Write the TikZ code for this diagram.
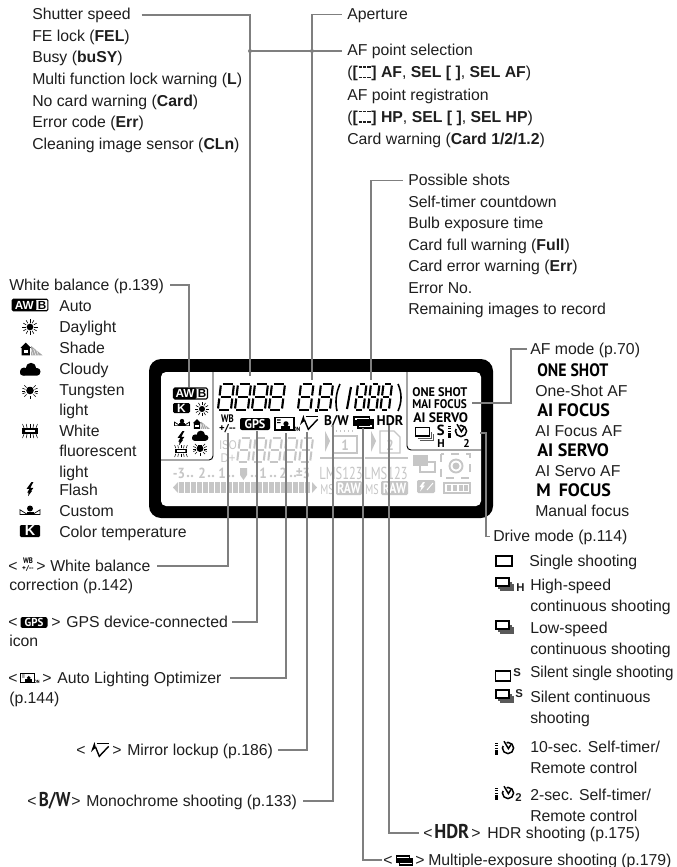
\documentclass[tikz,border=0pt]{standalone}
\usepackage{fontspec}
\setmainfont{Liberation Sans}
\newfontfamily\cond{PT Sans}
\definecolor{ink}{HTML}{1E1E1E}
\definecolor{lead}{HTML}{7F7F7F}
\definecolor{lcdgray}{HTML}{C6C6C6}
\newcommand\dashbrk{\textbf{[}\kern.6pt\rlap{\rule{2.4pt}{.9pt}\kern.9pt\rule{2.4pt}{.9pt}\kern.9pt\rule{2.4pt}{.9pt}}\raisebox{7.8pt}{\rule{2.4pt}{.9pt}\kern.9pt\rule{2.4pt}{.9pt}\kern.9pt\rule{2.4pt}{.9pt}}\kern.6pt\textbf{]}}
\newcommand\cnd[2][.8]{\scalebox{#1}[1]{\cond\bfseries #2}}
\newcommand\segd[6]{% x y w h color lw
 \begin{scope}[shift={(#1,#2)},xslant=.12,line width=#6pt,draw=#5]
  \draw (1.5,0)--(#3-1.5,0) (1.5,#4/2)--(#3-1.5,#4/2) (1.5,#4)--(#3-1.5,#4);
  \draw (0,1.5)--(0,#4/2-1.5) (0,#4/2+1.5)--(0,#4-1.5) (#3,1.5)--(#3,#4/2-1.5) (#3,#4/2+1.5)--(#3,#4-1.5);
 \end{scope}}
\tikzset{
 x=.75pt,y=-.75pt,
 lbl/.style={anchor=base west,inner sep=0pt,text=ink,font=\fontsize{11.85pt}{13pt}\selectfont,text height=9pt,text depth=1.5pt},
 glyph/.style={anchor=base,inner sep=0pt,text=ink,font=\fontsize{11.85pt}{13pt}\selectfont},
 afword/.style={anchor=base west,inner sep=0pt,text=black,font=\fontsize{13.5pt}{15pt}\selectfont},
 lcdword/.style={anchor=base west,inner sep=0pt,text=black,font=\fontsize{9.4pt}{11pt}\selectfont},
 graytext/.style={anchor=base,inner sep=0pt,text=lcdgray,font=\fontsize{11pt}{13pt}\selectfont},
 leader/.style={draw=lead,line width=1.05pt},
 leadend/.style={fill=lead,draw=none},
 pics/awbicon/.style={code={
  \draw[black,line width=.8pt,rounded corners=1pt] (-17,-5.5) rectangle (17,5.5);
  \fill[black,rounded corners=1pt] (-17,-5.5) rectangle (6,5.5);
  \node[inner sep=0pt,text=white,font=\bfseries\fontsize{8.8pt}{9pt}\selectfont] (-aw) at (-5.5,0) {AW};
  \node[inner sep=0pt,text=black,font=\bfseries\fontsize{8.8pt}{9pt}\selectfont] (-b) at (11.5,0) {B};}},
 pics/kicon/.style={code={
  \fill[black,rounded corners=1pt] (-8.5,-5) rectangle (8.5,5);
  \node[inner sep=0pt,text=white,font=\bfseries\fontsize{9pt}{9pt}\selectfont] (-k) at (0,0) {K};}},
 pics/sunicon/.style={code={
  \fill[black] (0,0) circle (3.2);
  \foreach \a in {0,30,...,330}{\draw[black,line width=.45pt] (\a:4.2)--(\a:7.4);}}},
 pics/shadeicon/.style={code={
  \fill[black] (-10,-1)--(-5,-6)--(0,-1)--(-1,-1)--(-1,6)--(-9,6)--(-9,-1)--cycle;
  \fill[white] (-7,1) rectangle (-3,4);
  \fill[gray!70] (0,-3)--(11,6)--(0,6)--cycle;
  \foreach \k in {2,4.5,7}{\draw[white,line width=.3pt] (\k,6)--(\k-2,0);}}},
 pics/cloudicon/.style={code={
  \fill[black,rounded corners=2pt] (-10,0) rectangle (10,6);
  \fill[black] (-6,2) circle (4) (1,-1.5) circle (5.2) (7,2) circle (3.5);}},
 pics/tungicon/.style={code={
  \fill[black] (0,-.5) circle (3.8);
  \fill[black] (-2.2,-4) rectangle (2.2,0);
  \foreach \a in {-45,-20,0,20,45,135,160,180,200,225,90}{\draw[black,line width=.45pt] (\a:4.8)--(\a:8);}}},
 pics/fluoricon/.style={code={
  \draw[black,line width=.8pt] (-7,-2) rectangle (7,2);
  \fill[black] (-7,-2) rectangle (-5,2) (5,-2) rectangle (7,2);
  \foreach \k in {-6,-3,0,3,6}{\draw[black,line width=.4pt] (\k,-3.2)--(\k*1.25,-7) (\k,3.2)--(\k*1.25,7);}}},
 pics/flashicon/.style={code={
  \fill[black] (1.5,-7)--(-3.4,-.2)--(-.6,-.2)--(-2.7,3.5)--(-1.6,3.5)--(-1.8,7)--(2,2)--(1.2,2)--(3.4,-1.2)--(.4,-1.2)--(3.4,-7)--cycle;}},
 pics/customicon/.style={code={
  \draw[black,line width=.55pt] (-10,-1.2)--(-2.5,3.5)--(-10,3.5)--cycle (10,-1.2)--(2.5,3.5)--(10,3.5)--cycle;
  \fill[black] (0,-2.5) circle (3);
  \fill[black] (-3.5,3.7) rectangle (3.5,.6);}},
 pics/wbicon/.style={code={
  \node[inner sep=0pt,text=black] (-w) at (0,-5) {\fontsize{8.2pt}{9pt}\selectfont\cnd[.8]{WB}};
  \node[inner sep=0pt,text=black] (-p) at (0,5) {\fontsize{7.6pt}{8pt}\selectfont\cnd[1.05]{+/--}};}},
 pics/gpsicon/.style={code={
  \fill[black,rounded corners=1.5pt] (-15,-6) rectangle (15,6);
  \node[inner sep=0pt,text=white] (-g) at (0,0) {\fontsize{9.6pt}{10pt}\selectfont\cnd[.95]{GPS}};}},
 pics/aloicon/.style={code={
  \draw[black,line width=.8pt] (-10,-6.5) rectangle (9,6);
  \fill[black] (-4,1.6) rectangle (5,5.5);
  \fill[black] (1,-.2) circle (2.6);
  \fill[black] (-8,-4.6) rectangle (-4.5,-3.4) (-8,-2) rectangle (-4.5,-.8);
  \fill[white] (9.5,3) rectangle (14,8);
  \node[inner sep=0pt,text=black] (-o) at (11.7,5.6) {\fontsize{4.6pt}{5pt}\selectfont\cnd[.9]{ON}};}},
 pics/mirroricon/.style={code={
  \draw[black,line width=1.1pt] (-3.3,-6.3)--(9.3,-6.3);
  \draw[black,line width=1.05pt] (-4.5,-3)--(-.7,6.3)--(8.7,-3.7);
  \fill[black] (-9,2)--(-5.5,-8)--(-4,-2)--(-6,-1)--cycle;}},
 pics/multiicon/.style={code={
  \fill[black] (-10,-6) rectangle (7,3.5);
  \fill[white] (-8.5,-4) rectangle (5.5,-2.4);
  \draw[black,line width=1pt] (-5,-2) rectangle (10,6);
  \fill[black] (-5,-2) rectangle (10,3);}},
 pics/stackone/.style={code={\draw[black,line width=1.3pt] (-8,-5) rectangle (8,5);}},
 pics/stackmany/.style={code={
  \draw[black,line width=1.05pt] (-7,-6) rectangle (6,2);
  \draw[black!65,line width=.85pt] (-5,4)--(8,4)--(8,-2);
  \draw[black!65,line width=.85pt] (-3,6)--(10,6)--(10,0);}},
 pics/timericon/.style={code={
  \foreach \k in {-5.5,-3,-.5}{\fill[black] (-10,\k) rectangle (-7,\k+1.4);}
  \fill[black] (-10,2) rectangle (-7,6.5);
  \draw[black,line width=1.1pt] (3,0) circle (5.6);
  \fill[white] (3,0)--(-3.5,-3)--(-3.5,-7)--(1,-7)--cycle;
  \draw[black,line width=1.1pt] (-1,-6.8)--(3.4,.6)--(6,-3.5);}},
}
\begin{document}
\begin{tikzpicture}
\useasboundingbox (0,0) rectangle (677,867);
% ---- LCD frame
\fill[black,rounded corners=12*.75pt] (149,359) rectangle (493,518);
\fill[white,rounded corners=5*.75pt] (161,372) rectangle (481,506);
\draw[black,line width=.7pt,rounded corners=3pt] (213,372)--(213,460)--(161,460);
\draw[black,line width=.7pt,rounded corners=3pt] (407,372)--(407,450)--(481,450);
% ---- LCD gray part
\foreach \x in {240,255.5,271,286.5,302}{\segd{\x}{438}{11}{24}{lcdgray}{1.5}}
\node[graytext] (isolbl) at (228,449) {\fontsize{9.5pt}{10pt}\selectfont\scalebox{.8}[1]{ISO}};
\node[graytext] (dplus) at (228,462) {\fontsize{9.5pt}{10pt}\selectfont\scalebox{.9}[1]{D+}};
\foreach \x/\t/\i in {179/{-3}/a,202/2/b,222/1/c,263/1/d,283/2/e,303/{±3}/f}{\node[graytext] (sc\i) at (\x,478) {\cnd[.9]{\t}};}
\foreach \x in {188,192,209,213,229,233,252,256,271,275,291,295}{\fill[lcdgray] (\x,476) circle (1.3);}
\fill[lcdgray] (240,468) rectangle (247,475) (240,475)--(247,475)--(243.5,480)--cycle;
\fill[lcdgray] (173,487.5)--(178,482)--(178,493)--cycle (312,482)--(317,487.5)--(312,493)--cycle;
\foreach \x in {179,185,...,305}{\fill[lcdgray] (\x,482) rectangle (\x+5,493);}
% media boxes
\fill[lcdgray] (325,431)--(330,441)--(325,452)--cycle (371,431)--(376,441)--(371,452)--cycle;
\draw[lcdgray,line width=1pt] (333,436) rectangle (357,453);
\draw[lcdgray,line width=1pt,dotted] (336,431)--(356,431);
\draw[lcdgray,line width=1pt] (380,431)--(394,431)--(400,437)--(400,453)--(380,453)--cycle;
\node[graytext] (c1) at (345,450) {\cnd[.9]{1}};
\node[graytext] (c2) at (390,450) {\cnd[.9]{2}};
\draw[lcdgray,line width=.8pt] (320,458)--(362,458) (365,458)--(408,458);
\node[graytext] (lms1) at (341,479.5) {\fontsize{13pt}{14pt}\selectfont\scalebox{.72}[1]{\cond LMS123}};
\node[graytext] (lms2) at (386,479.5) {\fontsize{13pt}{14pt}\selectfont\scalebox{.72}[1]{\cond LMS123}};
\node[graytext] (ms1) at (327,494) {\fontsize{10.5pt}{12pt}\selectfont\scalebox{.72}[1]{\cond MS}};
\node[graytext] (ms2) at (372,494) {\fontsize{10.5pt}{12pt}\selectfont\scalebox{.72}[1]{\cond MS}};
\fill[lcdgray,rounded corners=1pt] (336,481) rectangle (362,495) (381,481) rectangle (408,495);
\node[graytext,text=white] (raw1) at (349,493.5) {\fontsize{11pt}{12pt}\selectfont\cnd[.8]{RAW}};
\node[graytext,text=white] (raw2) at (394.5,493.5) {\fontsize{11pt}{12pt}\selectfont\cnd[.8]{RAW}};
% right gray icons
\fill[lcdgray] (413,455) rectangle (428,466);
\draw[lcdgray,line width=1.2pt] (420,462) rectangle (435,472);
\draw[lcdgray,line width=1pt,dash pattern=on 6pt off 5pt] (441,454) rectangle (470,478);
\draw[lcdgray,line width=1.4pt] (456,466) circle (6.5);
\fill[lcdgray] (456,466) circle (3.5);
\fill[lcdgray,rounded corners=1pt] (417,480) rectangle (435,493);
\fill[white] (423,482)--(419.5,487)--(421.5,487)--(420,491.5)--(425,485.5)--(423,485.5)--(425,482)--cycle;
\draw[white,line width=.7pt] (427,490)--(433,483);
\draw[lcdgray,line width=1pt] (444,483) rectangle (470,493);
\foreach \x in {447,453,459,464}{\fill[lcdgray] (\x,485) rectangle (\x+4,491);}
% ---- LCD black digits
\foreach \x in {221,238,255,272}{\segd{\x}{384}{13}{26}{black}{1.6}}
\segd{301}{384}{12.5}{26}{black}{1.6}
\segd{321}{384}{12}{26}{black}{1.6}
\fill[black] (314.5,408.5) rectangle (317.5,411.5);
\draw[black,line width=1.2pt] (340,384) .. controls (336,393) and (335,402) .. (337,411);
\draw[black,line width=1.2pt] (398,384) .. controls (402,393) and (402,402) .. (398,411);
\draw[black,line width=1.6pt] (351,387)--(347,409);
\foreach \x in {358,371,383.5}{\segd{\x}{384}{8.5}{26}{black}{1.6}}
% ---- LCD black icons
\pic[scale=1] (lcdawb) at (190.5,393.5) {awbicon};
\pic[scale=1,transform shape] (lcdk) at (181.5,408) {kicon};
\pic[scale=.95] (lcdsun) at (202,409) {sunicon};
\pic[scale=.75] (lcdcust) at (182,423) {customicon};
\pic[scale=.8] (lcdshade) at (201,424) {shadeicon};
\pic[scale=1] (lcdflash) at (181,438) {flashicon};
\pic[scale=.8] (lcdcloud) at (200,436) {cloudicon};
\pic[scale=.85] (lcdfluor) at (181,451) {fluoricon};
\pic[scale=.9] (lcdtung) at (200,449) {tungicon};
\pic (lcdwb) at (227.5,424) {wbicon};
\pic (lcdgps) at (255,424) {gpsicon};
\pic (lcdalo) at (285,424) {aloicon};
\pic (lcdmirror) at (309,423) {mirroricon};
\node[lcdword,anchor=base] (lcdbw) at (336.5,425.5) {\fontsize{10.5pt}{11pt}\selectfont\cnd[.95]{B/W}};
\pic (lcdmulti) at (363,422) {multiicon};
\node[lcdword,anchor=base] (lcdhdr) at (390,425.5) {\fontsize{10.5pt}{11pt}\selectfont\cnd[1]{HDR}};
\node[lcdword] (lcdone) at (412,396) {\cnd[.98]{ONE SHOT}};
\node[lcdword] (lcdmai) at (412,408) {\cnd[.9]{MAI FOCUS}};
\node[lcdword] (lcdservo) at (413,422) {\fontsize{10.3pt}{11pt}\selectfont\cnd[1]{AI SERVO}};
\pic[scale=1.05] (lcddrive) at (423,434) {stackmany};
\node[lcdword] (lcds) at (436.5,435.5) {\fontsize{11pt}{11pt}\selectfont\cond\bfseries S};
\node[lcdword] (lcdh) at (437,447.5) {\fontsize{8.5pt}{9pt}\selectfont\cond\bfseries H};
\pic (lcdtimer) at (458,431) {timericon};
\node[lcdword] (lcd2) at (463,447.5) {\fontsize{8.5pt}{9pt}\selectfont\cond\bfseries 2};
% ---- top labels
\node[lbl] (shutter) at (32,20) {Shutter speed};
\node[lbl] at (32,41.5) (fel) {FE lock (\textbf{FEL})};
\node[lbl] at (32,63) (busy) {Busy (\textbf{buSY})};
\node[lbl] at (32,84.5) (mflock) {Multi function lock warning (\textbf{L})};
\node[lbl] at (32,106) (nocard) {No card warning (\textbf{Card})};
\node[lbl] at (32,127.5) (errcode) {Error code (\textbf{Err})};
\node[lbl] at (32,149) (clean) {Cleaning image sensor (\textbf{CLn})};
\node[lbl] (aperture) at (347,19.5) {Aperture};
\node[lbl] (afsel) at (347,56) {AF point selection};
\node[lbl] (afsel2) at (347,78) {(\dashbrk\ \textbf{AF}, \textbf{SEL [ ]}, \textbf{SEL AF})};
\node[lbl] (afreg) at (347,100.5) {AF point registration};
\node[lbl] (afreg2) at (347,122.5) {(\dashbrk\ \textbf{HP}, \textbf{SEL [ ]}, \textbf{SEL HP})};
\node[lbl] (cardw) at (347,144.5) {Card warning (\textbf{Card 1/2/1.2})};
\node[lbl] (shots) at (408,185.5) {Possible shots};
\node[lbl] (timer) at (408,207) {Self-timer countdown};
\node[lbl] (bulb) at (408,228.5) {Bulb exposure time};
\node[lbl] (full) at (408,250) {Card full warning (\textbf{Full})};
\node[lbl] (cerr) at (408,271.5) {Card error warning (\textbf{Err})};
\node[lbl] (errno) at (408,293) {Error No.};
\node[lbl] (remain) at (408,314.5) {Remaining images to record};
% ---- white balance legend
\node[lbl] (wbal) at (9,290) {White balance (p.139)};
\pic[scale=1.05] (lgawb) at (30,305) {awbicon};
\node[lbl] (auto) at (59,311) {Auto};
\pic[scale=1.05] (lgsun) at (30,327) {sunicon};
\node[lbl] (day) at (59,332) {Daylight};
\pic[scale=1.05] (lgshade) at (31,349) {shadeicon};
\node[lbl] (shade) at (59,353) {Shade};
\pic (lgcloud) at (30,369.5) {cloudicon};
\node[lbl] (cloudy) at (59,374) {Cloudy};
\pic (lgtung) at (30,391) {tungicon};
\node[lbl] (tung) at (59,395) {Tungsten};
\node[lbl] (tung2) at (59,415.5) {light};
\pic (lgfluor) at (30,431) {fluoricon};
\node[lbl] (white) at (59,436) {White};
\node[lbl] (fluor) at (59,456.5) {fluorescent};
\node[lbl] (fluor2) at (59,477) {light};
\pic (lgflash) at (30,489) {flashicon};
\node[lbl] (flash) at (59,495) {Flash};
\pic (lgcust) at (30,511) {customicon};
\node[lbl] (custom) at (59,516) {Custom};
\pic[transform shape,scale=1.2] (lgk) at (30,531) {kicon};
\node[lbl] (ctemp) at (59,537) {Color temperature};
% ---- lower left labels
\node[glyph] (wblt) at (13,571) {<};
\node[inner sep=0pt,text=black] (inwbtop) at (28,560.5) {\fontsize{6pt}{6pt}\selectfont\cnd[.85]{WB}};
\node[inner sep=0pt,text=black] (inwbbot) at (28,568.7) {\fontsize{5.2pt}{6pt}\selectfont\cnd[1.05]{+/--}};
\node[glyph] (wbgt) at (41,571) {>};
\node[lbl] (wbc) at (50,571) {White balance};
\node[lbl] (wbc2) at (9,590.5) {correction (p.142)};
\node[glyph] (gpslt) at (13,627) {<};
\pic[scale=.9,transform shape] (ingps) at (34,622.5) {gpsicon};
\node[glyph] (gpsgt) at (56,627) {>};
\node[lbl] (gpsl) at (66,627) {GPS device-connected};
\node[lbl] (gpsl2) at (9,646.5) {icon};
\node[glyph] (alolt) at (13,683) {<};
\pic[scale=.75,transform shape] (inalo) at (28,678) {aloicon};
\node[glyph] (alogt) at (47,683) {>};
\node[lbl] (alol) at (57,683) {Auto Lighting Optimizer};
\node[lbl] (alol2) at (9,703) {(p.144)};
\node[glyph] (mirlt) at (81,755) {<};
\pic (inmir) at (100,750) {mirroricon};
\node[glyph] (mirgt) at (117,755) {>};
\node[lbl] (mirl) at (127,755) {Mirror lockup (p.186)};
\node[glyph] (bwlt) at (32,806) {<};
\node[lbl,font=\fontsize{15pt}{15pt}\selectfont] (inbw) at (38.5,806) {\cnd[.85]{B/W}};
\node[glyph] (bwgt) at (76,806) {>};
\node[lbl] (bwl) at (86,806) {Monochrome shooting (p.133)};
\node[glyph] (hdrlt) at (428,838) {<};
\node[lbl,font=\fontsize{15pt}{15pt}\selectfont] (inhdr) at (434,838) {\cnd[.92]{HDR}};
\node[glyph] (hdrgt) at (476,838) {>};
\node[lbl] (hdrl) at (487,838) {HDR shooting (p.175)};
\node[glyph] (mulLt) at (388,865) {<};
\pic[scale=.85,transform shape] (inmul) at (404,860) {multiicon};
\node[glyph] (mulgt) at (420,865) {>};
\node[lbl] (mull) at (428,865) {Multiple-exposure shooting (p.179)};
% ---- AF mode legend
\node[lbl] (afmode) at (530,354) {AF mode (p.70)};
\node[afword] (w1) at (537,376) {\cnd[.88]{ONE SHOT}};
\node[lbl] (t1) at (535,396) {One-Shot AF};
\node[afword] (w2) at (537,416) {\cnd[1]{AI FOCUS}};
\node[lbl] (t2) at (535,436) {AI Focus AF};
\node[afword] (w3) at (537,456.5) {\cnd[1]{AI SERVO}};
\node[lbl] (t3) at (535,476) {AI Servo AF};
\node[afword] (w4) at (536,496.5) {\cnd[1]{M\hspace{.45em}FOCUS}};
\node[lbl] (t4) at (535,516.5) {Manual focus};
% ---- drive legend
\node[lbl] (drive) at (493,541.5) {Drive mode (p.114)};
\pic (dr1) at (504,561) {stackone};
\node[lbl] (d1) at (529,566) {Single shooting};
\pic (dr2) at (503,584) {stackmany};
\node[lbl,font=\bfseries\fontsize{8.5pt}{9pt}\selectfont] (d2h) at (516,591) {H};
\node[lbl] (d2) at (530,590) {High-speed};
\node[lbl] (d2b) at (530,611) {continuous shooting};
\pic (dr3) at (503,627) {stackmany};
\node[lbl] (d3) at (530,633) {Low-speed};
\node[lbl] (d3b) at (530,654) {continuous shooting};
\pic[scale=.95] (dr4) at (503,676) {stackone};
\node[lbl,font=\bfseries\fontsize{8.5pt}{9pt}\selectfont] (d4s) at (513,676) {S};
\node[lbl] (d4) at (530,677) {\scalebox{.96}[1]{Silent single shooting}};
\pic (dr5) at (503,696) {stackmany};
\node[lbl,font=\bfseries\fontsize{8.5pt}{9pt}\selectfont] (d5s) at (515,697) {S};
\node[lbl] (d5) at (530,702) {Silent continuous};
\node[lbl] (d5b) at (530,723) {shooting};
\pic (dr6) at (505,748) {timericon};
\node[lbl] (d6) at (530,752) {10-sec. Self-timer/};
\node[lbl] (d6b) at (530,773) {Remote control};
\pic (dr7) at (505,793) {timericon};
\node[lbl,font=\bfseries\fontsize{8.5pt}{9pt}\selectfont] (d7n) at (515,801) {2};
\node[lbl] (d7) at (530,800) {2-sec. Self-timer/};
\node[lbl] (d7b) at (530,821) {Remote control};
% ---- connector ends
\coordinate (eshutter) at (250,376);
\coordinate (eaperture) at (312,380);
\coordinate (eshots) at (371,380);
\coordinate (ewbal) at (189,387);
\coordinate (eafmode) at (472,403);
\coordinate (edrive) at (480,433);
\coordinate (jshut) at (250,51);
\coordinate (japer) at (312,51);
\coordinate (ewb) at (228,433);
\coordinate (egps) at (257,431);
\coordinate (ealo) at (286,433);
\coordinate (emir) at (307,432);
\coordinate (ebw) at (333,425);
\coordinate (emul) at (363,428);
\coordinate (ehdr) at (389,425);
\coordinate (afbend) at (511,403);
\coordinate (drbend) at (486,433);
% ---- connectors
\draw[leader] ([xshift=8pt]shutter.east) -| (eshutter);
\draw[leader] ([xshift=-4pt]aperture.west) -| (eaperture);
\draw[leader] ([xshift=-4pt]afsel.west) -- (jshut);
\fill[leadend] (jshut) circle (2) (japer) circle (2);
\draw[leader] ([xshift=-4pt]shots.west) -| (eshots);
\draw[leader] ([xshift=4.5pt]wbal.east) -| (ewbal);
\draw[leader] ([xshift=-2pt]afmode.west) -| (afbend) -- (eafmode);
\draw[leader] (edrive) -- (drbend) |- ([xshift=-2pt]drive.west);
\draw[leader] ([xshift=5pt]wbc.east) -| (ewb);
\draw[leader] ([xshift=3pt]gpsl.east) -| (egps);
\draw[leader] ([xshift=6pt]alol.east) -| (ealo);
\draw[leader] ([xshift=3.5pt]mirl.east) -| (emir);
\draw[leader] ([xshift=4.5pt]bwl.east) -| (ebw);
\draw[leader] (ehdr) |- ([xshift=-3pt]hdrlt.west |- hdrl.east);
\draw[leader] (emul) |- ([xshift=-1pt]mulLt.west |- mull.east);
\end{tikzpicture}
\end{document}
